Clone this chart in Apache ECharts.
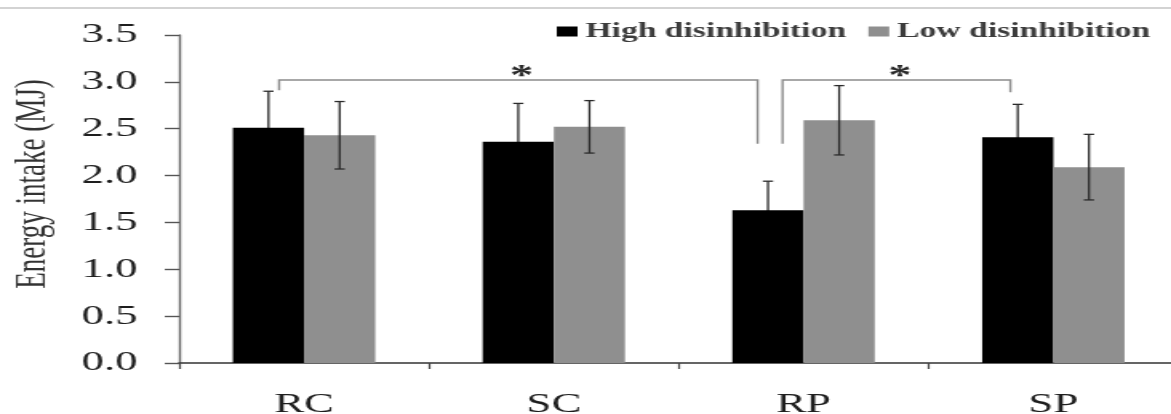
<!DOCTYPE html>
<html>
<head>
<meta charset="utf-8">
<script src="https://cdn.jsdelivr.net/npm/echarts@6/dist/echarts.min.js"></script>
<style>
html,body{margin:0;padding:0;background:#fff;overflow:hidden;width:1171px;height:414px;}
#c{width:732px;height:414px;transform:scaleX(1.59973);transform-origin:0 0;}
</style>
</head>
<body>
<div id="c"></div>
<script>
// ---- data ----
var categories = ['RC', 'SC', 'RP', 'SP'];
var seriesNames = ['High disinhibition', 'Low disinhibition'];
var highMeans = [2.51, 2.36, 1.63, 2.41];
var highErr   = [0.39, 0.41, 0.31, 0.35];
var lowMeans  = [2.43, 2.52, 2.59, 2.09];
var lowErr    = [0.36, 0.28, 0.37, 0.35];
var yTicks = [0, 0.5, 1.0, 1.5, 2.0, 2.5, 3.0, 3.5];
// significance brackets: from / to category, bracket level, leg ends (MJ)
var bracketFrom  = ['RC', 'RP'];
var bracketTo    = ['RP', 'SP'];
var bracketTop   = [3.02, 3.02];
var bracketLeftEnd  = [2.91, 2.34];
var bracketRightEnd = [2.34, 2.89];
var bracketMarks = ['*', '*'];

// ---- styles ----
var FONT = "'Liberation Serif','Times New Roman',serif";
var BAR_W = 44.5;
var bracketLegOffset = [[-0.10, -0.184], [-0.084, -0.172]]; // fraction of category width

var chart = echarts.init(document.getElementById('c'));

function errData(means, errs) {
  return means.map(function (m, i) { return [i, m - errs[i], m + errs[i]]; });
}
function errRender(side) {
  return function (params, api) {
    var i = api.value(0);
    var lo = api.coord([i, api.value(1)]);
    var hi = api.coord([i, api.value(2)]);
    var x = lo[0] + side * BAR_W / 2;
    var cap = 3.2;
    var st = { stroke: '#2b2b2b', lineWidth: 1.3 };
    return {
      type: 'group',
      children: [
        { type: 'line', shape: { x1: x, y1: lo[1], x2: x, y2: hi[1] }, style: st },
        { type: 'line', shape: { x1: x - cap, y1: hi[1], x2: x + cap, y2: hi[1] }, style: st },
        { type: 'line', shape: { x1: x - cap, y1: lo[1], x2: x + cap, y2: lo[1] }, style: st }
      ]
    };
  };
}

var bracketData = bracketFrom.map(function (f, k) {
  return [categories.indexOf(f), categories.indexOf(bracketTo[k]), bracketTop[k], bracketLeftEnd[k], bracketRightEnd[k]];
});

function bracketRender(params, api) {
  var k = params.dataIndex;
  var catW = api.size([1, 0])[0];
  var a = api.coord([api.value(0), api.value(2)]);
  var b = api.coord([api.value(1), api.value(2)]);
  var x1 = a[0] + bracketLegOffset[k][0] * catW;
  var x2 = b[0] + bracketLegOffset[k][1] * catW;
  var yTop = a[1];
  var yL = api.coord([api.value(0), api.value(3)])[1];
  var yR = api.coord([api.value(1), api.value(4)])[1];
  var st = { stroke: '#8c8c8c', lineWidth: 1.4, fill: null };
  return {
    type: 'group',
    children: [
      { type: 'polyline', shape: { points: [[x1, yL], [x1, yTop], [x2, yTop], [x2, yR]] }, style: st },
      { type: 'text', style: { text: bracketMarks[k], x: (x1 + x2) / 2 + 2, y: yTop - 3,
        align: 'center', verticalAlign: 'middle', fill: '#2a2a2a', font: 'bold 29px ' + FONT } }
    ]
  };
}

chart.setOption({
  animation: false,
  backgroundColor: '#fff',
  graphic: [{
    type: 'line', shape: { x1: 0, y1: 8, x2: 732, y2: 8 },
    style: { stroke: '#c4c4c4', lineWidth: 1.5 }
  }],
  legend: {
    data: seriesNames,
    right: 8, top: 16,
    itemWidth: 13, itemHeight: 10, itemGap: 14,
    textStyle: { fontFamily: FONT, fontSize: 21, fontWeight: 'bold', color: '#3c3c3c' },
    icon: 'rect'
  },
  grid: { left: 112, right: -4.5, top: 35, bottom: 51, containLabel: false, outerBoundsMode: 'none' },
  xAxis: {
    type: 'category',
    data: categories,
    axisLine: { lineStyle: { color: '#333', width: 1.5 } },
    axisTick: { show: true, length: 6, lineStyle: { color: '#444', width: 1.2 } },
    axisLabel: { fontFamily: FONT, fontSize: 28, color: '#1e1e1e', margin: 28 }
  },
  yAxis: {
    type: 'value',
    min: 0, max: 3.5, interval: 0.5,
    name: 'Energy intake (MJ)',
    nameLocation: 'middle',
    nameGap: 78,
    nameTextStyle: { fontFamily: FONT, fontSize: 27, color: '#333', padding: [0, 0, 0, 30] },
    axisLine: { show: true, lineStyle: { color: '#6a6a6a', width: 1.4 } },
    axisTick: { show: true, length: 9, lineStyle: { color: '#555', width: 1.4 } },
    axisLabel: {
      fontFamily: FONT, fontSize: 28, color: '#1e1e1e', margin: 26,
      formatter: function (v) { return yTicks.indexOf(v) >= 0 ? v.toFixed(1) : ''; }
    },
    splitLine: { show: false }
  },
  series: [
    { name: seriesNames[0], type: 'bar', data: highMeans, barWidth: BAR_W, barGap: '0%',
      itemStyle: { color: '#000' }, z: 2 },
    { name: seriesNames[1], type: 'bar', data: lowMeans, barWidth: BAR_W, barGap: '0%',
      itemStyle: { color: '#8f8f8f' }, z: 2 },
    { type: 'custom', data: errData(highMeans, highErr), renderItem: errRender(-1), z: 1, silent: true },
    { type: 'custom', data: errData(lowMeans, lowErr), renderItem: errRender(1), z: 3, silent: true },
    { type: 'custom', data: bracketData, renderItem: bracketRender, z: 4, silent: true }
  ]
});
</script>
</body>
</html>
